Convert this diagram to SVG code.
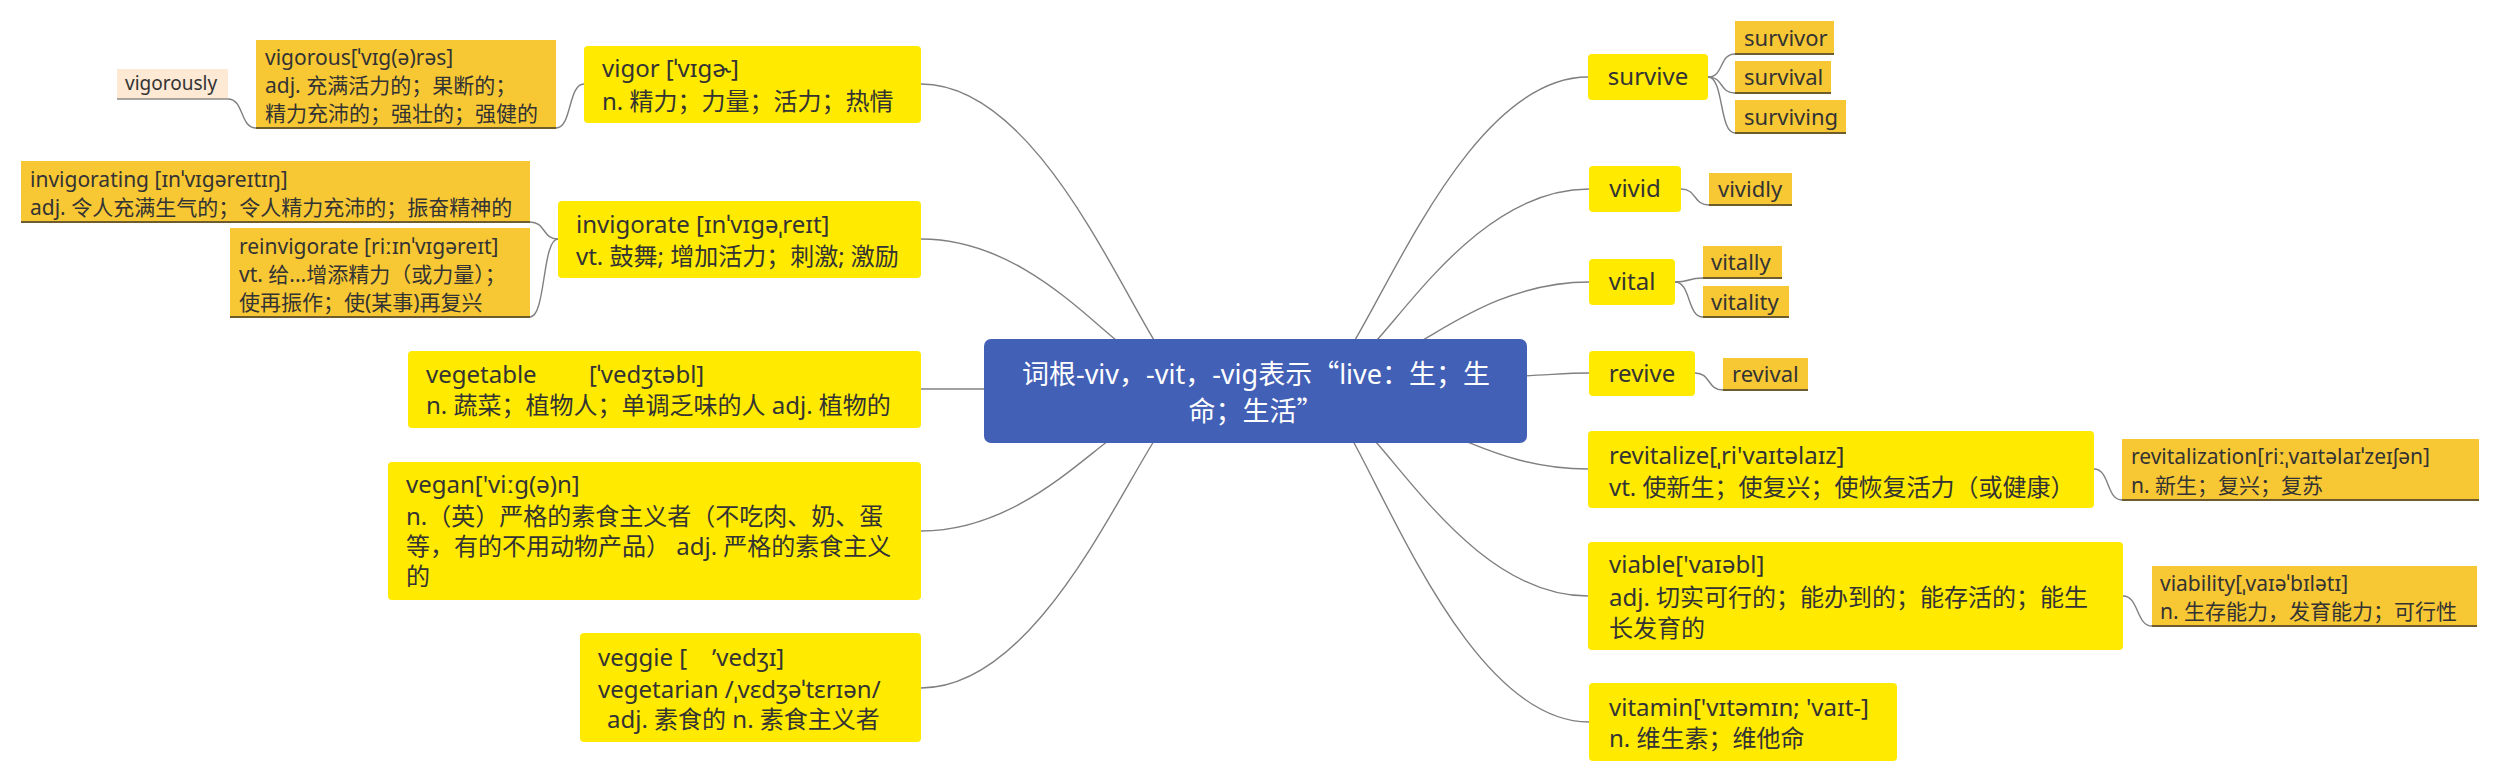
<svg xmlns="http://www.w3.org/2000/svg" width="2500" height="782" viewBox="0 0 2500 782">
<style>
.bg{fill:#ffffff}
.y{fill:#FFEA00}
.o{fill:#F8C834}
.p{fill:#FDE9D4}
.root{fill:#4360B7}
.ul{stroke:#6E5C2C;stroke-width:2}
.ulp{stroke:#8a8a8a;stroke-width:1.5}
.c{fill:none;stroke:#808080;stroke-width:1.4}
text{font-family:"Noto Sans","Noto Sans CJK SC",sans-serif;fill:#333333}
.t24{font-size:24px}
.t21{font-size:21px}
.t22{font-size:22px}
.t20{font-size:19px}
.rt{font-size:27px;fill:#ffffff}
.cjk{font-family:"Noto Sans CJK SC",sans-serif}
</style>
<rect class="bg" x="0" y="0" width="2500" height="782"/>
<g id="connectors">
<path class="c" d="M1355,340 C1402,260 1481,77 1588,77"/>
<path class="c" d="M1377,340 C1419,293 1491,189 1589,189"/>
<path class="c" d="M1423,340 C1456,321 1513,282 1589,282"/>
<path class="c" d="M1520,376 C1550,375 1565,373 1589,373"/>
<path class="c" d="M1465,441 C1490,451 1531,469 1588,469"/>
<path class="c" d="M1375,441 C1418,489 1490,596 1588,596"/>
<path class="c" d="M1353,441 C1400,527 1480,722 1589,722"/>
<path class="c" d="M1154,340 C1107,262 1028,84 921,84"/>
<path class="c" d="M1116,340 C1077,308 1011,239 921,239"/>
<path class="c" d="M921,389 L990,389"/>
<path class="c" d="M1108,441 C1071,469 1007,531 921,531"/>
<path class="c" d="M1154,441 C1107,517 1028,688 921,688"/>
<path class="c" d="M584,84 C568,84 572,128 556,128"/>
<path class="c" d="M256,128 C240,128 244,99 228,99"/>
<path class="c" d="M558,239 C542,239 546,222 530,222"/>
<path class="c" d="M558,239 C542,239 546,317 530,317"/>
<path class="c" d="M1708,77 C1724,77 1719,54 1735,54"/>
<path class="c" d="M1708,77 C1724,77 1719,93 1735,93"/>
<path class="c" d="M1708,77 C1724,77 1719,133 1735,133"/>
<path class="c" d="M1681,189 C1697,189 1693,205 1709,205"/>
<path class="c" d="M1675,282 C1691,282 1687,278 1703,278"/>
<path class="c" d="M1675,282 C1691,282 1687,317 1703,317"/>
<path class="c" d="M1695,373 C1711,373 1707,390 1723,390"/>
<path class="c" d="M2094,469 C2110,469 2106,500 2122,500"/>
<path class="c" d="M2123,596 C2139,596 2136,626 2152,626"/>
</g>
<g id="root">
<rect class="root" x="984" y="339" width="543" height="104" rx="7"/>
<text class="rt" x="1256" y="384" text-anchor="middle">词根-viv，-vit，-vig表示<tspan class="cjk">“</tspan>live：生；生</text>
<text class="rt" x="1256" y="421" text-anchor="middle">命；生活<tspan class="cjk">”</tspan></text>
</g>
<g id="vigor">
<rect class="y" x="584" y="46" width="337" height="77" rx="4"/>
<text class="t24" x="602" y="77">vigor [ˈvɪgɚ]</text>
<text class="t24" x="602" y="110">n. 精力；力量；活力；热情</text>
</g>
<g id="vigorous">
<rect class="o" x="256" y="40" width="300" height="88"/>
<line class="ul" x1="256" y1="128" x2="556" y2="128"/>
<text class="t21" x="265" y="65">vigorous[ˈvɪg(ə)rəs]</text>
<text class="t21" x="265" y="93">adj. 充满活力的；果断的；</text>
<text class="t21" x="265" y="121">精力充沛的；强壮的；强健的</text>
</g>
<g id="vigorously">
<rect class="p" x="117" y="69" width="111" height="30"/>
<line class="ulp" x1="117" y1="99" x2="228" y2="99"/>
<text class="t20" x="125" y="90">vigorously</text>
</g>
<g id="invigorate">
<rect class="y" x="558" y="201" width="363" height="77" rx="4"/>
<text class="t24" x="576" y="233">invigorate [ɪnˈvɪgəˌreɪt]</text>
<text class="t24" x="576" y="265">vt. 鼓舞; 增加活力；刺激; 激励</text>
</g>
<g id="invigorating">
<rect class="o" x="21" y="161" width="509" height="61"/>
<line class="ul" x1="21" y1="222" x2="530" y2="222"/>
<text class="t21" x="30" y="187">invigorating [ɪnˈvɪgəreɪtɪŋ]</text>
<text class="t21" x="30" y="215">adj. 令人充满生气的；令人精力充沛的；振奋精神的</text>
</g>
<g id="reinvigorate">
<rect class="o" x="230" y="228" width="300" height="89"/>
<line class="ul" x1="230" y1="317" x2="530" y2="317"/>
<text class="t21" x="239" y="254">reinvigorate [riːɪnˈvɪgəreɪt]</text>
<text class="t21" x="239" y="282">vt. 给...增添精力（或力量）；</text>
<text class="t21" x="239" y="310">使再振作；使(某事)再复兴</text>
</g>
<g id="vegetable">
<rect class="y" x="408" y="351" width="513" height="77" rx="4"/>
<text class="t24" x="426" y="383">vegetable<tspan x="589">[ˈvedʒtəbl]</tspan></text>
<text class="t24" x="426" y="414">n. 蔬菜；植物人；单调乏味的人 adj. 植物的</text>
</g>
<g id="vegan">
<rect class="y" x="388" y="462" width="533" height="138" rx="4"/>
<text class="t24" x="406" y="493">vegan['viːg(ə)n]</text>
<text class="t24" x="406" y="525">n.（英）严格的素食主义者（不吃肉、奶、蛋</text>
<text class="t24" x="406" y="555">等，有的不用动物产品） adj. 严格的素食主义</text>
<text class="t24" x="406" y="585">的</text>
</g>
<g id="veggie">
<rect class="y" x="580" y="633" width="341" height="109" rx="4"/>
<text class="t24" x="598" y="666">veggie [<tspan x="712">ʼvedʒɪ]</tspan></text>
<text class="t24" x="598" y="698">vegetarian /ˌvɛdʒəˈtɛrɪən/</text>
<text class="t24" x="607" y="728">adj. 素食的 n. 素食主义者</text>
</g>
<g id="survive">
<rect class="y" x="1588" y="54" width="120" height="46" rx="4"/>
<text class="t24" x="1648" y="85" text-anchor="middle">survive</text>
</g>
<g id="survivor">
<rect class="o" x="1735" y="21" width="99" height="33"/>
<line class="ul" x1="1735" y1="54" x2="1834" y2="54"/>
<text class="t22" x="1744" y="46">survivor</text>
</g>
<g id="survival">
<rect class="o" x="1735" y="61" width="96" height="32"/>
<line class="ul" x1="1735" y1="93" x2="1831" y2="93"/>
<text class="t22" x="1744" y="85">survival</text>
</g>
<g id="surviving">
<rect class="o" x="1735" y="100" width="111" height="33"/>
<line class="ul" x1="1735" y1="133" x2="1846" y2="133"/>
<text class="t22" x="1744" y="125">surviving</text>
</g>
<g id="vivid">
<rect class="y" x="1589" y="166" width="92" height="46" rx="4"/>
<text class="t24" x="1635" y="197" text-anchor="middle">vivid</text>
</g>
<g id="vividly">
<rect class="o" x="1709" y="173" width="83" height="32"/>
<line class="ul" x1="1709" y1="205" x2="1792" y2="205"/>
<text class="t22" x="1718" y="197">vividly</text>
</g>
<g id="vital">
<rect class="y" x="1589" y="259" width="86" height="46" rx="4"/>
<text class="t24" x="1632" y="290" text-anchor="middle">vital</text>
</g>
<g id="vitally">
<rect class="o" x="1703" y="246" width="79" height="32"/>
<line class="ul" x1="1703" y1="278" x2="1782" y2="278"/>
<text class="t22" x="1711" y="270">vitally</text>
</g>
<g id="vitality">
<rect class="o" x="1703" y="286" width="86" height="31"/>
<line class="ul" x1="1703" y1="317" x2="1789" y2="317"/>
<text class="t22" x="1711" y="310">vitality</text>
</g>
<g id="revive">
<rect class="y" x="1589" y="351" width="106" height="45" rx="4"/>
<text class="t24" x="1642" y="382" text-anchor="middle">revive</text>
</g>
<g id="revival">
<rect class="o" x="1723" y="358" width="85" height="32"/>
<line class="ul" x1="1723" y1="390" x2="1808" y2="390"/>
<text class="t22" x="1732" y="382">revival</text>
</g>
<g id="revitalize">
<rect class="y" x="1588" y="431" width="506" height="77" rx="4"/>
<text class="t24" x="1609" y="464">revitalize[ˌri'vaɪtəlaɪz]</text>
<text class="t24" x="1609" y="496">vt. 使新生；使复兴；使恢复活力（或健康）</text>
</g>
<g id="revitalization">
<rect class="o" x="2122" y="439" width="357" height="61"/>
<line class="ul" x1="2122" y1="500" x2="2479" y2="500"/>
<text class="t21" x="2131" y="464">revitalization[riːˌvaɪtəlaɪˈzeɪʃən]</text>
<text class="t21" x="2131" y="493">n. 新生；复兴；复苏</text>
</g>
<g id="viable">
<rect class="y" x="1588" y="542" width="535" height="108" rx="4"/>
<text class="t24" x="1609" y="573">viable['vaɪəbl]</text>
<text class="t24" x="1609" y="606">adj. 切实可行的；能办到的；能存活的；能生</text>
<text class="t24" x="1609" y="637">长发育的</text>
</g>
<g id="viability">
<rect class="o" x="2152" y="566" width="325" height="60"/>
<line class="ul" x1="2152" y1="626" x2="2477" y2="626"/>
<text class="t21" x="2160" y="591">viability[ˌvaɪəˈbɪlətɪ]</text>
<text class="t21" x="2160" y="619">n. 生存能力，发育能力；可行性</text>
</g>
<g id="vitamin">
<rect class="y" x="1589" y="683" width="308" height="78" rx="4"/>
<text class="t24" x="1609" y="716">vitamin['vɪtəmɪn; 'vaɪt-]</text>
<text class="t24" x="1609" y="747">n. 维生素；维他命</text>
</g>
</svg>
